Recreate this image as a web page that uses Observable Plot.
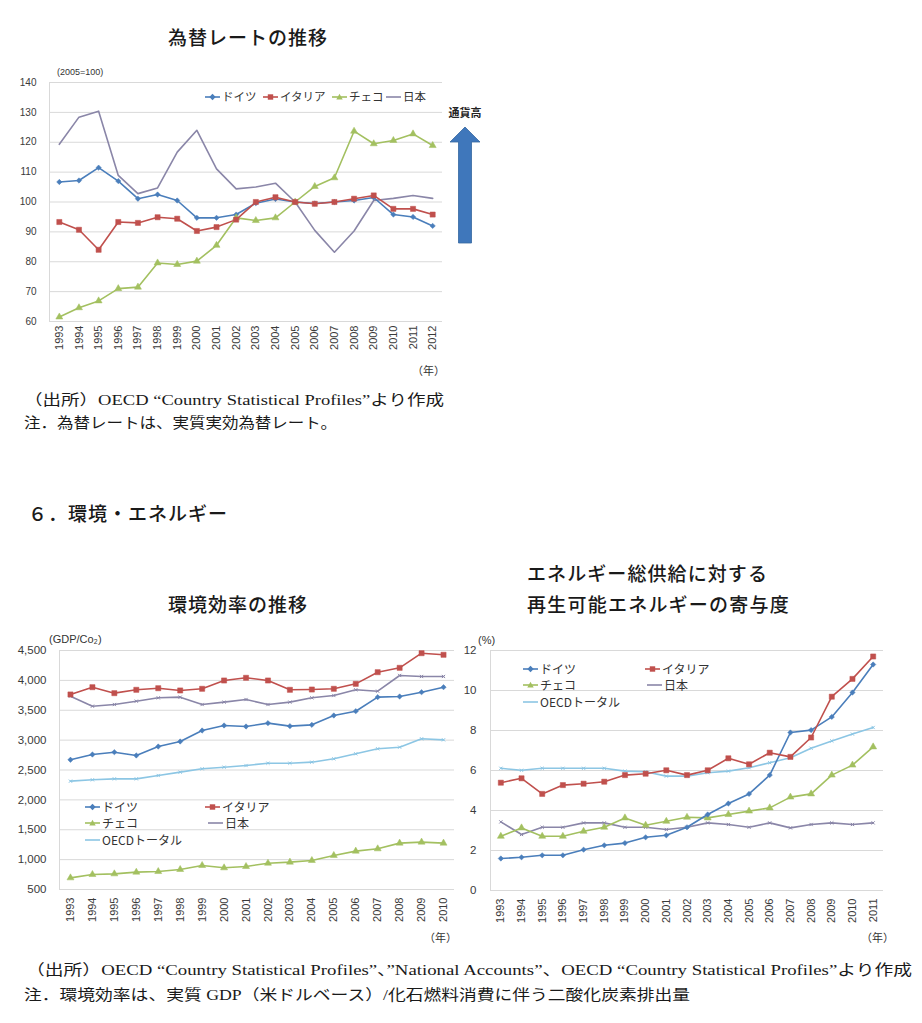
<!DOCTYPE html>
<html><head><meta charset="utf-8">
<script src="https://cdn.jsdelivr.net/npm/d3@7"></script>
<script src="https://cdn.jsdelivr.net/npm/@observablehq/plot@0.6"></script>
<style>
html,body{margin:0;padding:0;background:#fff;}
#page{position:relative;width:922px;height:1023px;overflow:hidden;font-family:"Noto Sans CJK JP","Liberation Sans",sans-serif;color:#222;}
.abs{position:absolute;white-space:nowrap;line-height:1.2;}
.leg{position:absolute;display:flex;align-items:center;white-space:nowrap;line-height:1.2;color:#333;font-family:"Noto Sans CJK JP",sans-serif;}
</style></head><body><div id="page"></div>
<script>
// ---------- data ----------
const fxYears = [1993,1994,1995,1996,1997,1998,1999,2000,2001,2002,2003,2004,2005,2006,2007,2008,2009,2010,2011,2012];
const fxGermany = [106.7,107.2,111.5,107.0,101.1,102.5,100.5,94.7,94.7,95.8,99.6,101.0,100.0,99.5,100.0,100.5,101.5,95.8,95.0,92.0];
const fxItaly   = [93.3,90.7,84.0,93.3,93.0,94.9,94.4,90.3,91.6,94.1,100.0,101.6,100.0,99.4,100.0,101.1,102.2,97.7,97.7,95.8];
const fxCzech   = [61.5,64.6,66.9,71.0,71.5,79.6,79.1,80.2,85.5,94.7,93.8,94.7,100.0,105.2,108.1,123.7,119.5,120.6,122.8,118.9];
const fxJapan   = [119.3,128.4,130.4,108.9,102.8,104.7,116.7,124.0,111.1,104.4,105.0,106.3,100.0,90.5,83.2,90.3,100.5,101.2,102.2,101.2];
const fxTicks = [60,70,80,90,100,110,120,130,140];

const ecoYears = [1993,1994,1995,1996,1997,1998,1999,2000,2001,2002,2003,2004,2005,2006,2007,2008,2009,2010];
const ecoGermany = [2671,2759,2798,2743,2893,2977,3161,3245,3228,3284,3234,3256,3412,3484,3719,3730,3802,3886];
const ecoItaly   = [3764,3886,3786,3842,3869,3831,3859,3998,4043,3998,3842,3847,3859,3942,4137,4210,4455,4428];
const ecoCzech   = [695,751,762,790,801,835,902,863,885,940,958,986,1070,1142,1181,1276,1293,1276];
const ecoJapan   = [3736,3568,3596,3652,3708,3719,3596,3636,3680,3596,3636,3708,3747,3842,3819,4082,4065,4065];
const ecoOECD    = [2313,2336,2352,2352,2408,2464,2520,2547,2575,2614,2614,2631,2687,2771,2855,2882,3022,3005];
const ecoTicks = [500,1000,1500,2000,2500,3000,3500,4000,4500];

const renYears = [1993,1994,1995,1996,1997,1998,1999,2000,2001,2002,2003,2004,2005,2006,2007,2008,2009,2010,2011];
const renGermany = [1.60,1.66,1.76,1.76,2.04,2.26,2.37,2.66,2.76,3.16,3.80,4.35,4.83,5.77,7.90,8.02,8.68,9.90,11.30];
const renItaly   = [5.39,5.61,4.83,5.27,5.34,5.44,5.77,5.84,6.01,5.77,6.01,6.61,6.31,6.89,6.68,7.65,9.69,10.58,11.70];
const renCzech   = [2.71,3.13,2.71,2.71,2.96,3.16,3.63,3.26,3.46,3.66,3.63,3.80,3.97,4.13,4.67,4.83,5.77,6.27,7.18];
const renJapan   = [3.43,2.80,3.16,3.16,3.38,3.38,3.16,3.16,3.05,3.16,3.38,3.30,3.16,3.38,3.13,3.30,3.38,3.30,3.38];
const renOECD    = [6.11,6.01,6.11,6.11,6.11,6.11,5.97,5.94,5.72,5.72,5.89,5.97,6.14,6.39,6.64,7.11,7.48,7.82,8.15];
const renTicks = [0,2,4,6,8,10,12];

const names = {de:"ドイツ", it:"イタリア", cz:"チェコ", jp:"日本", oecd:"OECDトータル"};
const colors = {de:"#4a7ebb", it:"#c0504d", cz:"#a3c060", jp:"#8a86a8", oecd:"#8cc6e4"};

// ---------- helpers ----------
const page = document.getElementById("page");
function rowsOf(years, series) {
  return Object.entries(series).flatMap(([name, vals]) => vals.map((v, i) => ({year: years[i], series: name, value: v})));
}
const specDe = {name: names.de, color: colors.de, symbol: "diamond2", r: 2.4};
const specIt = {name: names.it, color: colors.it, symbol: "square", r: 2.9};
const specCz = {name: names.cz, color: colors.cz, symbol: "triangle", r: 2.6};
const specJp = {name: names.jp, color: colors.jp, symbol: null};
const specJp2 = {name: names.jp, color: colors.jp, symbol: "times", r: 1.6};
const specOecd = {name: names.oecd, color: colors.oecd, symbol: "times", r: 1.6};

function seriesMarks(rows, specs) {
  return specs.flatMap(s => {
    const data = rows.filter(d => d.series === s.name);
    const m = [Plot.line(data, {x: "year", y: "value", stroke: s.color, strokeWidth: 1.6})];
    if (s.symbol) m.push(Plot.dot(data, {x: "year", y: "value", symbol: s.symbol, r: s.r,
      fill: s.symbol === "times" ? "none" : s.color, stroke: s.color, strokeWidth: s.symbol === "times" ? 1 : 0.5}));
    return m;
  });
}
function chart(o) {
  const x0 = o.years[0] - 0.5, x1 = o.years[o.years.length - 1] + 0.5;
  return Plot.plot({
    width: o.width, height: o.height,
    marginLeft: o.ml, marginRight: o.mr, marginTop: o.mt, marginBottom: o.mb,
    style: {fontFamily: '"Liberation Sans","Noto Sans CJK JP",sans-serif', color: "#3a3a3a", background: "transparent", overflow: "visible"},
    x: {type: "linear", domain: [x0, x1]},
    y: {domain: o.yDomain},
    marks: [
      Plot.gridY(o.yTicks, {stroke: "#d9d9d9", strokeOpacity: 1, strokeWidth: 1}),
      Plot.ruleX([x0], {stroke: "#d9d9d9", strokeWidth: 1}),
      Plot.axisY(o.yTicks, {tickSize: 0, tickPadding: o.yPad, tickFormat: o.yFormat, fontSize: o.ySize, label: null}),
      Plot.axisX(o.years, {tickSize: 0, tickPadding: o.xPad, tickRotate: -90, tickFormat: d => String(d), fontSize: o.xSize, label: null}),
      ...seriesMarks(o.rows, o.specs)
    ]
  });
}
function place(node, left, top) {
  node.style.position = "absolute"; node.style.left = left + "px"; node.style.top = top + "px";
  page.appendChild(node);
}
function txt(s, x, y, o = {}) {
  const d = document.createElement("div");
  d.className = "abs";
  d.textContent = s;
  d.style.fontSize = (o.size || 14) + "px";
  if (o.weight) d.style.fontWeight = o.weight;
  if (o.family) d.style.fontFamily = o.family;
  d.style.color = o.color || "#1a1a1a";
  page.appendChild(d);
  let r = d.getBoundingClientRect();
  if (o.fit) {
    if (o.mode === "spacing") {
      const n = [...s].length;
      d.style.letterSpacing = ((o.fit - r.width) / n) + "px";
    } else {
      d.style.transformOrigin = "0 50%";
      d.style.transform = `scaleX(${o.fit / r.width})`;
    }
    r = d.getBoundingClientRect();
  }
  d.style.left = (o.anchor === "middle" ? x - r.width / 2 : x) + "px";
  d.style.top = (y - r.height / 2) + "px";
  return d;
}
function markerSvg(s, cx, cy) {
  const c = s.color;
  switch (s.symbol) {
    case "diamond2": return `<polygon points="${cx},${cy-3.2} ${cx+3.2},${cy} ${cx},${cy+3.2} ${cx-3.2},${cy}" fill="${c}"/>`;
    case "square": return `<rect x="${cx-2.7}" y="${cy-2.7}" width="5.4" height="5.4" fill="${c}"/>`;
    case "triangle": return `<polygon points="${cx},${cy-3.2} ${cx+3.2},${cy+2.4} ${cx-3.2},${cy+2.4}" fill="${c}"/>`;
    default: return "";
  }
}
function legendItem(spec, x, y, size, sw) {
  const d = document.createElement("div");
  d.className = "leg";
  d.style.fontSize = size + "px";
  d.innerHTML = `<svg width="${sw}" height="10" style="flex:none;margin-right:2px"><line x1="0" x2="${sw}" y1="5" y2="5" stroke="${spec.color}" stroke-width="1.6"/>${markerSvg(spec, sw/2, 5)}</svg><span>${spec.name}</span>`;
  page.appendChild(d);
  const h = d.getBoundingClientRect().height;
  d.style.left = x + "px"; d.style.top = (y - h / 2) + "px";
}

// ---------- chart 1 : 為替レート ----------
const fxRows = rowsOf(fxYears, {[names.de]: fxGermany, [names.it]: fxItaly, [names.cz]: fxCzech, [names.jp]: fxJapan});
place(chart({rows: fxRows, specs: [specJp, specDe, specCz, specIt], years: fxYears,
  yDomain: [60, 140], yTicks: fxTicks, yFormat: d => String(d),
  width: 462, height: 320, ml: 49, mr: 20, mt: 22, mb: 59, yPad: 13, ySize: 10, xPad: 4, xSize: 11}), 0, 60);

txt("為替レートの推移", 248, 37, {size: 19, weight: 500, anchor: "middle", fit: 160, mode: "spacing"});
txt("(2005=100)", 57, 72, {size: 9, family: '"Liberation Sans",sans-serif', color: "#333"});
txt("（年）", 412, 371, {size: 11, color: "#333"});
legendItem(specDe, 205, 97, 11.5, 15);
legendItem(specIt, 263, 97, 11.5, 15);
legendItem(specCz, 332, 97, 11.5, 15);
legendItem(specJp, 386, 97, 11.5, 15);

// arrow 通貨高
txt("通貨高", 465, 113, {size: 11, weight: 700, anchor: "middle", color: "#222"});
const arrowDiv = document.createElement("div");
arrowDiv.innerHTML = `<svg width="36" height="122"><polygon points="17,3 32,18 23.5,18 23.5,119 10.5,119 10.5,18 2,18" fill="#3f77bb" stroke="#35679f" stroke-width="0.8"/></svg>`;
place(arrowDiv, 448, 124);

const capFam = '"Liberation Serif","Noto Sans CJK JP",serif';
txt("（出所）OECD “Country Statistical Profiles”より作成", 24, 400, {size: 15, family: capFam, fit: 420});
txt("注．為替レートは、実質実効為替レート。", 24, 423, {size: 15, family: capFam, fit: 313});

txt("６．環境・エネルギー", 28, 513, {size: 19, weight: 500, fit: 200, mode: "spacing"});

// ---------- chart 2 : 環境効率 ----------
const ecoRows = rowsOf(ecoYears, {[names.de]: ecoGermany, [names.it]: ecoItaly, [names.cz]: ecoCzech, [names.jp]: ecoJapan, [names.oecd]: ecoOECD});
place(chart({rows: ecoRows, specs: [specOecd, specJp2, specDe, specCz, specIt], years: ecoYears,
  yDomain: [500, 4500], yTicks: ecoTicks, yFormat: d3.format(","),
  width: 464, height: 310, ml: 59, mr: 10, mt: 10, mb: 61, yPad: 13, ySize: 11.5, xPad: 8, xSize: 11}), 0, 640);

txt("環境効率の推移", 238, 604, {size: 19, weight: 500, anchor: "middle", fit: 140, mode: "spacing"});
txt("(GDP/Co₂)", 49, 640, {size: 11, family: '"Liberation Sans","DejaVu Sans",sans-serif', color: "#333"});
txt("（年）", 424, 938, {size: 11, color: "#333"});
legendItem(specDe, 85, 807, 12, 15);
legendItem(specIt, 205, 807, 12, 15);
legendItem(specCz, 85, 823, 12, 15);
legendItem(specJp, 208, 823, 12, 15);
legendItem(specOecd, 85, 840, 12, 15);

// ---------- chart 3 : 再生可能エネルギー ----------
const renRows = rowsOf(renYears, {[names.de]: renGermany, [names.it]: renItaly, [names.cz]: renCzech, [names.jp]: renJapan, [names.oecd]: renOECD});
place(chart({rows: renRows, specs: [specOecd, specJp2, specCz, specDe, specIt], years: renYears,
  yDomain: [0, 12], yTicks: renTicks, yFormat: d => String(d),
  width: 433, height: 310, ml: 30, mr: 10, mt: 10, mb: 60, yPad: 14, ySize: 11.5, xPad: 8, xSize: 11}), 460, 640);

txt("エネルギー総供給に対する", 527, 573, {size: 19, weight: 500, fit: 241, mode: "spacing"});
txt("再生可能エネルギーの寄与度", 527, 604, {size: 19, weight: 500, fit: 263, mode: "spacing"});
txt("(%)", 478, 641, {size: 11, family: '"Liberation Sans",sans-serif', color: "#333"});
txt("（年）", 861, 938, {size: 11, color: "#333"});
legendItem(specDe, 523, 669, 12, 15);
legendItem(specIt, 645, 669, 12, 15);
legendItem(specCz, 523, 685, 12, 15);
legendItem(specJp, 647, 685, 12, 15);
legendItem(specOecd, 523, 702, 12, 15);

txt("（出所）OECD “Country Statistical Profiles”、”National Accounts”、OECD “Country Statistical Profiles”より作成", 26, 970, {size: 15, family: capFam, fit: 886});
txt("注．環境効率は、実質 GDP（米ドルベース）/化石燃料消費に伴う二酸化炭素排出量", 24, 995, {size: 15, family: capFam, fit: 666});
</script></body></html>
